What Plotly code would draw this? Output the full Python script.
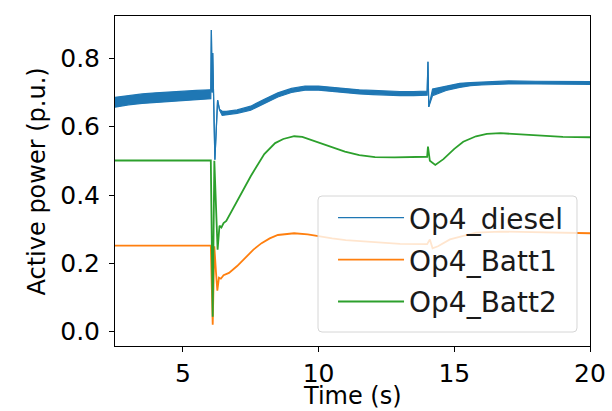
import plotly.graph_objects as go

# ---- data ----
t_diesel = [2.5, 3.0, 3.5, 4.0, 4.5, 5.0, 5.5, 6.0, 6.03, 6.05, 6.08, 6.1, 6.18, 6.28, 6.35,
            6.45, 6.6, 7.0, 7.5, 8.0, 8.5, 9.0, 9.5, 10.0, 10.5, 11.0, 11.5, 12.0, 12.5,
            13.0, 13.5, 14.0, 14.03, 14.06, 14.2, 14.7, 15.2, 15.6, 16.0, 17.0, 18.0, 19.0, 20.0]
diesel_low = [0.657, 0.664, 0.668, 0.671, 0.674, 0.677, 0.680, 0.682, 0.682, 0.883, 0.700, 0.816,
              0.503, 0.678, 0.649, 0.633, 0.635, 0.639, 0.648, 0.668, 0.687, 0.700, 0.707, 0.707,
              0.703, 0.700, 0.696, 0.694, 0.692, 0.691, 0.691, 0.692, 0.790, 0.658, 0.691, 0.706,
              0.715, 0.720, 0.722, 0.725, 0.725, 0.725, 0.724]
diesel_high = [0.686, 0.692, 0.696, 0.699, 0.702, 0.704, 0.706, 0.708, 0.708, 0.883, 0.700, 0.816,
               0.503, 0.678, 0.651, 0.645, 0.645, 0.649, 0.660, 0.680, 0.699, 0.712, 0.719, 0.719,
               0.715, 0.712, 0.708, 0.706, 0.704, 0.703, 0.703, 0.704, 0.790, 0.658, 0.710, 0.719,
               0.727, 0.729, 0.731, 0.734, 0.733, 0.732, 0.732]

t_batt1 = [2.5, 6.03, 6.1, 6.16, 6.22, 6.27, 6.33, 6.4, 6.5, 6.7, 7.0, 7.3, 7.6, 7.9, 8.2, 8.5,
           9.1, 9.6, 10.1, 10.5, 11.0, 11.77, 12.5, 13.0, 14.0, 14.1, 14.2, 14.4, 14.84, 15.45,
           15.8, 16.7, 17.5, 18.5, 20.0]
batt1 = [0.252, 0.252, 0.020, 0.250, 0.175, 0.120, 0.158, 0.155, 0.165, 0.172, 0.192, 0.216,
         0.240, 0.259, 0.273, 0.283, 0.288, 0.285, 0.278, 0.273, 0.268, 0.264, 0.259, 0.257,
         0.256, 0.270, 0.244, 0.250, 0.270, 0.283, 0.290, 0.293, 0.292, 0.290, 0.288]

t_batt2 = [2.5, 6.03, 6.1, 6.16, 6.28, 6.35, 6.42, 6.5, 6.6, 7.0, 7.5, 8.0, 8.4, 8.7, 9.1,
           9.4, 9.93, 10.5, 10.97, 11.5, 12.08, 12.8, 13.5, 14.0, 14.03, 14.1,
           14.3, 14.6, 15.0, 15.33, 15.8, 16.2, 16.7, 17.4, 18.16, 19.0, 20.0]
batt2 = [0.501, 0.501, 0.044, 0.500, 0.240, 0.310, 0.305, 0.318, 0.324, 0.382, 0.455, 0.520,
         0.552, 0.564, 0.572, 0.570, 0.556, 0.540, 0.527, 0.517, 0.511,
         0.510, 0.510, 0.512, 0.542, 0.500, 0.488, 0.505, 0.535, 0.556, 0.572, 0.579, 0.581,
         0.577, 0.573, 0.570, 0.569]

labels = ["Op4_diesel", "Op4_Batt1", "Op4_Batt2"]
colors = ["#1f77b4", "#ff7f0e", "#2ca02c"]

x_ticks = [5, 10, 15, 20]
y_ticks = [0.0, 0.2, 0.4, 0.6, 0.8]
x_title = "Time (s)"
y_title = "Active power (p.u.)"

fig = go.Figure()
fig.add_trace(go.Scatter(x=t_diesel, y=diesel_low, mode="lines",
                         line=dict(color=colors[0], width=1.2), name=labels[0],
                         legendgroup="d"))
fig.add_trace(go.Scatter(x=t_diesel, y=diesel_high, mode="lines", fill="tonexty",
                         fillcolor=colors[0], line=dict(color=colors[0], width=1.2),
                         showlegend=False, legendgroup="d"))
fig.add_trace(go.Scatter(x=t_batt1, y=batt1, mode="lines",
                         line=dict(color=colors[1], width=1.8), name=labels[1],
                         legendgroup="b1"))
fig.add_trace(go.Scatter(x=t_batt2, y=batt2, mode="lines",
                         line=dict(color=colors[2], width=1.8), name=labels[2],
                         legendgroup="b2"))

# legend frame (rounded, semi-transparent like matplotlib's)
x0, x1, y0, y1 = 0.4274, 0.9726, 0.0424, 0.4545
rx, ry = 0.0084, 0.0121
frame = (f"M {x0+rx},{y0} L {x1-rx},{y0} Q {x1},{y0} {x1},{y0+ry} "
         f"L {x1},{y1-ry} Q {x1},{y1} {x1-rx},{y1} L {x0+rx},{y1} Q {x0},{y1} {x0},{y1-ry} "
         f"L {x0},{y0+ry} Q {x0},{y0} {x0+rx},{y0} Z")

font = "DejaVu Sans"
fig.update_layout(
    width=612, height=411,
    margin=dict(l=115, r=22, t=16, b=65),
    paper_bgcolor="white", plot_bgcolor="white",
    font=dict(family=font, color="black"),
    legend=dict(x=0.4590, y=0.4636, xanchor="left", yanchor="top",
                traceorder="grouped", tracegroupgap=2.5, itemwidth=66,
                bgcolor="rgba(0,0,0,0)", borderwidth=0,
                font=dict(size=28, family=font, color="#1a1a1a")),
    shapes=[dict(type="path", path=frame, xref="paper", yref="paper", layer="above",
                 fillcolor="rgba(255,255,255,0.8)", line=dict(color="#d6d6d6", width=1))],
    xaxis=dict(range=[2.5, 20], tickvals=x_ticks, ticks="outside", ticklen=5,
               tickcolor="black", showline=True, linecolor="black", linewidth=1,
               mirror=True, showgrid=False, zeroline=False, automargin=False,
               tickfont=dict(size=25, family=font)),
    yaxis=dict(range=[-0.042, 0.924], tickvals=y_ticks, tickformat=".1f", ticks="outside",
               ticklen=5, tickcolor="black", showline=True, linecolor="black",
               linewidth=1, mirror=True, showgrid=False, zeroline=False, automargin=False,
               ticklabelstandoff=4, tickfont=dict(size=25, family=font)),
    annotations=[
        dict(text=x_title, xref="paper", yref="paper", x=0.5, y=-0.151,
             xanchor="center", yanchor="middle", showarrow=False,
             font=dict(size=24, family=font, color="black")),
        dict(text=y_title, xref="paper", yref="paper", x=-0.1632, y=0.5,
             xanchor="center", yanchor="middle", showarrow=False, textangle=-90,
             font=dict(size=24, family=font, color="black")),
    ],
)

fig.write_html("out.html", config={"displayModeBar": False},
               post_script="document.body.style.margin='0px';document.body.style.overflow='hidden';")
